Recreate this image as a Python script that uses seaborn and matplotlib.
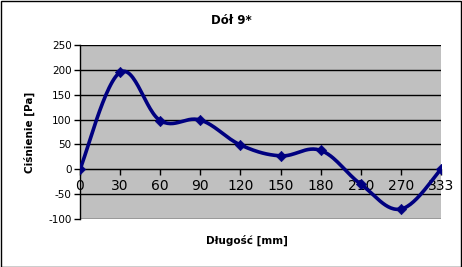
import numpy as np
import pandas as pd
import matplotlib
matplotlib.use("Agg")
import matplotlib.pyplot as plt
import seaborn as sns
from matplotlib.patches import Rectangle

categories = ["0", "30", "60", "90", "120", "150", "180", "210", "270", "333"]
pressure = [0, 195, 98, 99, 49, 27, 38, -30, -80, 0]
y_ticks = [-100, -50, 0, 50, 100, 150, 200, 250]

title = "Dół 9*"
xlabel = "Długość [mm]"
ylabel = "Ciśnienie [Pa]"

sns.set_style("white")
plt.rcParams["font.family"] = ["DejaVu Sans"]
plt.rcParams["text.color"] = "black"
plt.rcParams["xtick.color"] = "black"
plt.rcParams["ytick.color"] = "black"

W, H = 462, 267
fig = plt.figure(figsize=(W / 100, H / 100), dpi=100)
fig.patch.set_facecolor("white")
L, R, T, B = 80, 441, 45, 219
ax = fig.add_axes([L / W, 1 - B / H, (R - L) / W, (B - T) / H])
ax.set_facecolor("#C0C0C0")

pos = np.arange(len(categories), dtype=float)
vals = np.array(pressure, dtype=float)

# Excel-style smoothed line: cubic Bezier through the points
k = 1 / 6 * 1.1
xs, ys = [], []
n = len(pos)
for i in range(n - 1):
    p0 = np.array([pos[max(i - 1, 0)], vals[max(i - 1, 0)]])
    p1 = np.array([pos[i], vals[i]])
    p2 = np.array([pos[i + 1], vals[i + 1]])
    p3 = np.array([pos[min(i + 2, n - 1)], vals[min(i + 2, n - 1)]])
    c1 = p1 + (p2 - p0) * k
    c2 = p2 - (p3 - p1) * k
    t = np.linspace(0, 1, 30)[:, None]
    pts = (1 - t) ** 3 * p1 + 3 * t * (1 - t) ** 2 * c1 + 3 * t ** 2 * (1 - t) * c2 + t ** 3 * p2
    xs.extend(pts[:, 0])
    ys.extend(pts[:, 1])
curve = pd.DataFrame({"x": xs, "y": ys})
pts_df = pd.DataFrame({"x": pos, "y": vals})

for yv in y_ticks:
    ax.axhline(yv, color="black", lw=1, zorder=1)

sns.lineplot(data=curve, x="x", y="y", ax=ax, color="#000080", lw=2.6, sort=False,
             zorder=3, estimator=None)
sns.scatterplot(data=pts_df, x="x", y="y", ax=ax, marker="D", s=28, color="#000080",
                edgecolor="#000080", zorder=4)

ax.set_xlim(0, len(categories) - 1)
ax.set_ylim(-100, 250)
ax.set_yticks(y_ticks)
ax.set_yticklabels([str(v) for v in y_ticks], fontsize=7.5)
ax.set_xticks(pos)
ax.set_xticklabels(categories, fontsize=7.5)
ax.set_xlabel("")
ax.set_ylabel("")

for s in ["top", "right"]:
    ax.spines[s].set_visible(False)
ax.spines["left"].set_color("black")
ax.spines["left"].set_linewidth(1)
ax.spines["bottom"].set_position(("data", 0))
ax.spines["bottom"].set_color("black")
ax.tick_params(axis="y", direction="out", length=4, width=1, color="black", pad=2, left=True,
               labelcolor="black")
ax.tick_params(axis="x", direction="out", length=4, width=1, color="black", pad=3, bottom=True,
               labelcolor="black")

fig.text(231 / W, 1 - 21 / H, title, ha="center", va="center", fontsize=8.5, fontweight="bold",
         color="black")
fig.text(247 / W, 1 - 240 / H, xlabel, ha="center", va="center", fontsize=7.5, fontweight="bold",
         color="black")
fig.text(29 / W, 1 - 132 / H, ylabel, ha="center", va="center", rotation=90, fontsize=7.5,
         fontweight="bold", color="black")

fig.patches.append(Rectangle((0.5 / W, 0.5 / H), (W - 1.5) / W, (H - 1.5) / H,
                             transform=fig.transFigure, fill=False, edgecolor="black", lw=1))

fig.savefig("out.png", dpi=100)
